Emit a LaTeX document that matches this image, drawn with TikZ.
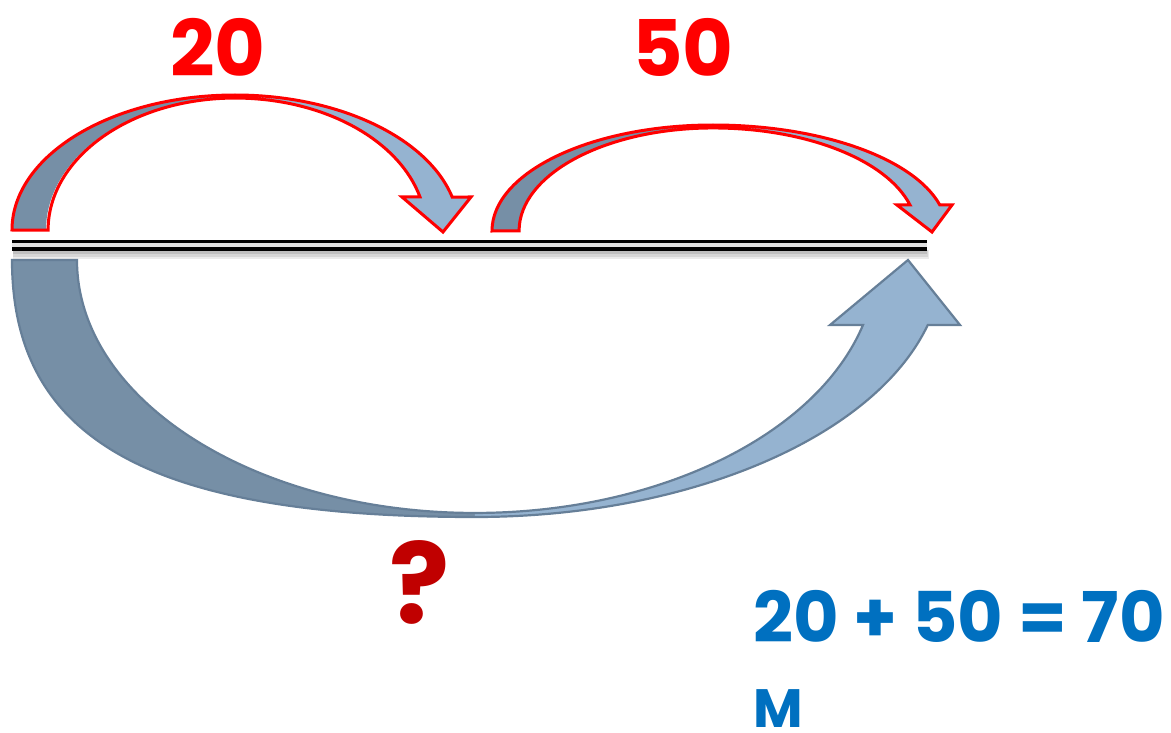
\documentclass[tikz,border=0pt]{standalone}
\usepackage{fontspec}
\setmainfont{Poppins}[BoldFont={* Bold}]
\definecolor{arrdark}{HTML}{768FA6}
\definecolor{arrlight}{HTML}{95B3D0}
\definecolor{arredge}{HTML}{667F98}
\definecolor{labred}{HTML}{FF0000}
\definecolor{qred}{HTML}{C00000}
\definecolor{eqblue}{HTML}{0070C0}
\tikzset{
  darkpart/.style={fill=arrdark},
  lightpart/.style={fill=arrlight},
  redrim/.style={draw=labred,line width=3pt,line join=miter},
  greyrim/.style={draw=arredge,line width=2.2pt,line join=miter},
  numlabel/.style={font=\bfseries\fontsize{78}{80}\selectfont,text=labred,inner sep=0pt,anchor=base},
}
\begin{document}
\begin{tikzpicture}[x=1pt,y=-1pt]
\useasboundingbox (0,0) rectangle (1171,733);

% ---------- number line ----------
\fill[black!8] (13,250) rectangle (929,259);
\fill[black!16] (13,250) rectangle (928,256.5);
\fill[black!25] (13,250) rectangle (927,254);
\fill[black!12] (12,243) rectangle (927,247.5);
\draw[line width=3.2pt,black] (12,241.6) -- (927,241.6);
\draw[line width=3.4pt,black] (12,249) -- (927,249);

% ---------- first jump (20) ----------
\fill[darkpart] (12,230) arc[start angle=180,end angle=270,x radius=223,y radius=135]
  -- (233,98) arc[start angle=270,end angle=180,x radius=187,y radius=132] -- cycle;
\fill[lightpart] (235,95) arc[start angle=270,end angle=345.85,x radius=224,y radius=135]
  -- (471,197) -- (443,232) -- (402,197) -- (420,197)
  arc[start angle=345.5,end angle=270,x radius=191,y radius=132] -- cycle;
\draw[redrim] (12,230) arc[start angle=180,end angle=270,x radius=223,y radius=135]
  arc[start angle=270,end angle=345.85,x radius=224,y radius=135]
  -- (471,197) -- (443,232) -- (402,197) -- (420,197)
  arc[start angle=345.5,end angle=270,x radius=191,y radius=132]
  arc[start angle=270,end angle=180,x radius=187,y radius=132] -- cycle;

% ---------- second jump (50) ----------
\fill[darkpart] (492,231) arc[start angle=180,end angle=270,x radius=221,y radius=106]
  -- (713,128) arc[start angle=270,end angle=180,x radius=194,y radius=103] -- cycle;
\fill[lightpart] (713,125) arc[start angle=270,end angle=345.8,x radius=234,y radius=106]
  -- (952,205) -- (932,232) -- (897,205) -- (910,205)
  arc[start angle=345.4,end angle=270,x radius=203.5,y radius=103] -- cycle;
\draw[redrim] (492,231) arc[start angle=180,end angle=270,x radius=221,y radius=106]
  arc[start angle=270,end angle=345.8,x radius=234,y radius=106]
  -- (952,205) -- (932,232) -- (897,205) -- (910,205)
  arc[start angle=345.4,end angle=270,x radius=203.5,y radius=103]
  arc[start angle=270,end angle=180,x radius=194,y radius=103] -- cycle;

% ---------- total jump (?) ----------
\fill[darkpart] (12,260) .. controls (12,440) and (151,517) .. (475,517)
  -- (475,513) .. controls (255,513) and (77,400) .. (77,260) -- cycle;
\fill[lightpart] (475,517) arc[start angle=90,end angle=14.65,x radius=468,y radius=257]
  -- (960,325) -- (908,260) -- (830,325) -- (863,325)
  arc[start angle=14.9,end angle=90,x radius=401.6,y radius=253] -- cycle;
\draw[greyrim] (12,260) .. controls (12,440) and (151,517) .. (475,517)
  arc[start angle=90,end angle=14.65,x radius=468,y radius=257]
  -- (960,325) -- (908,260) -- (830,325) -- (863,325)
  arc[start angle=14.9,end angle=90,x radius=401.6,y radius=253]
  .. controls (255,513) and (77,400) .. (77,260) -- cycle;

% ---------- labels ----------
\node[numlabel] (twenty) at (218,77) {20};
\node[numlabel] (fifty) at (683,77) {50};
\node[font=\bfseries\fontsize{112}{114}\selectfont,text=qred,inner sep=0pt,anchor=base] (quest) at (420,623) {?};
\node[font=\bfseries\fontsize{70}{72}\selectfont,text=eqblue,inner sep=0pt,anchor=base west] (eqn) at (753,642) {20 + 50 = 70};
\node[font=\bfseries\fontsize{54}{56}\selectfont,text=eqblue,inner sep=0pt,anchor=base west] (unit) at (753,727) {M};
\end{tikzpicture}
\end{document}
